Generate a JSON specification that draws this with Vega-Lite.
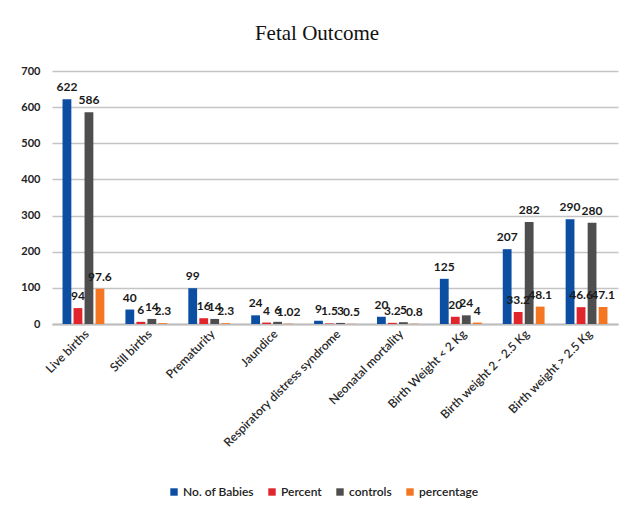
{
  "$schema": "https://vega.github.io/schema/vega-lite/v6.json",
  "autosize": "none",
  "width": 566,
  "height": 253,
  "padding": {"left": 52, "top": 71, "right": 11, "bottom": 187},
  "background": "white",
  "title": {
    "text": "Fetal Outcome",
    "font": "Liberation Serif",
    "fontSize": 21,
    "fontWeight": "normal",
    "color": "#111",
    "anchor": "middle",
    "dx": -18,
    "offset": 21
  },
  "data": {
    "values": [
      {"category": "Live births", "series": "No. of Babies", "value": 622, "label": "622"},
      {"category": "Live births", "series": "Percent", "value": 44, "label": "94"},
      {"category": "Live births", "series": "controls", "value": 586, "label": "586"},
      {"category": "Live births", "series": "percentage", "value": 97.6, "label": "97.6"},
      {"category": "Still births", "series": "No. of Babies", "value": 40, "label": "40"},
      {"category": "Still births", "series": "Percent", "value": 6, "label": "6"},
      {"category": "Still births", "series": "controls", "value": 14, "label": "14"},
      {"category": "Still births", "series": "percentage", "value": 2.3, "label": "2.3"},
      {"category": "Prematurity", "series": "No. of Babies", "value": 99, "label": "99"},
      {"category": "Prematurity", "series": "Percent", "value": 16, "label": "16"},
      {"category": "Prematurity", "series": "controls", "value": 14, "label": "14"},
      {"category": "Prematurity", "series": "percentage", "value": 2.3, "label": "2.3"},
      {"category": "Jaundice", "series": "No. of Babies", "value": 24, "label": "24"},
      {"category": "Jaundice", "series": "Percent", "value": 4, "label": "4"},
      {"category": "Jaundice", "series": "controls", "value": 6, "label": "6"},
      {"category": "Jaundice", "series": "percentage", "value": 1.02, "label": "1.02"},
      {"category": "Respiratory distress syndrome", "series": "No. of Babies", "value": 9, "label": "9"},
      {"category": "Respiratory distress syndrome", "series": "Percent", "value": 1.5, "label": "1.5"},
      {"category": "Respiratory distress syndrome", "series": "controls", "value": 3, "label": "3"},
      {"category": "Respiratory distress syndrome", "series": "percentage", "value": 0.5, "label": "0.5"},
      {"category": "Neonatal mortality", "series": "No. of Babies", "value": 20, "label": "20"},
      {"category": "Neonatal mortality", "series": "Percent", "value": 3.2, "label": "3.2"},
      {"category": "Neonatal mortality", "series": "controls", "value": 5, "label": "5"},
      {"category": "Neonatal mortality", "series": "percentage", "value": 0.8, "label": "0.8"},
      {"category": "Birth Weight < 2 Kg", "series": "No. of Babies", "value": 125, "label": "125"},
      {"category": "Birth Weight < 2 Kg", "series": "Percent", "value": 20, "label": "20"},
      {"category": "Birth Weight < 2 Kg", "series": "controls", "value": 24, "label": "24"},
      {"category": "Birth Weight < 2 Kg", "series": "percentage", "value": 4, "label": "4"},
      {"category": "Birth weight 2 - 2.5 Kg", "series": "No. of Babies", "value": 207, "label": "207"},
      {"category": "Birth weight 2 - 2.5 Kg", "series": "Percent", "value": 33.2, "label": "33.2"},
      {"category": "Birth weight 2 - 2.5 Kg", "series": "controls", "value": 282, "label": "282"},
      {"category": "Birth weight 2 - 2.5 Kg", "series": "percentage", "value": 48.1, "label": "48.1"},
      {"category": "Birth weight > 2.5 Kg", "series": "No. of Babies", "value": 290, "label": "290"},
      {"category": "Birth weight > 2.5 Kg", "series": "Percent", "value": 46.6, "label": "46.6"},
      {"category": "Birth weight > 2.5 Kg", "series": "controls", "value": 280, "label": "280"},
      {"category": "Birth weight > 2.5 Kg", "series": "percentage", "value": 47.1, "label": "47.1"}
    ]
  },
  "encoding": {
    "x": {
      "field": "category",
      "type": "nominal",
      "sort": null,
      "title": null,
      "scale": {"paddingInner": 0.3, "paddingOuter": 0.15},
      "axis": {
        "labelAngle": -45,
        "labelAlign": "right",
        "labelBaseline": "top",
        "labelFont": "Lato",
        "labelFontSize": 12,
        "labelFontWeight": 600,
        "labelColor": "#2a2a2a",
        "labelPadding": 4,
        "ticks": false,
        "domainColor": "#bdbdbd",
        "domainWidth": 2,
        "labelLimit": 300
      }
    },
    "xOffset": {
      "field": "series",
      "type": "nominal",
      "sort": ["No. of Babies", "Percent", "controls", "percentage"],
      "scale": {"paddingInner": 0.2, "paddingOuter": 0.1}
    },
    "y": {
      "field": "value",
      "type": "quantitative",
      "title": null,
      "scale": {"domain": [0, 700]},
      "axis": {
        "values": [0, 100, 200, 300, 400, 500, 600, 700],
        "domain": false,
        "ticks": false,
        "labelPadding": 12,
        "labelFont": "Lato",
        "labelFontSize": 11,
        "labelFontWeight": "bold",
        "labelColor": "#222",
        "gridColor": "#c4c4c4",
        "gridWidth": 1.5
      }
    }
  },
  "layer": [
    {
      "mark": {"type": "bar"},
      "encoding": {
        "color": {
          "field": "series",
          "type": "nominal",
          "scale": {
            "domain": ["No. of Babies", "Percent", "controls", "percentage"],
            "range": ["#0b4ea2", "#e0262c", "#4e4e4e", "#f47622"]
          },
          "legend": {
            "title": null,
            "orient": "none",
            "direction": "horizontal",
            "legendX": 116,
            "legendY": 415,
            "symbolType": "square",
            "symbolSize": 55,
            "symbolStrokeWidth": 0,
            "labelFont": "Lato",
            "labelFontSize": 12,
            "labelFontWeight": 600,
            "labelColor": "#222",
            "labelOffset": 3,
            "columnPadding": 12
          }
        }
      }
    },
    {
      "mark": {
        "type": "text",
        "baseline": "bottom",
        "dy": -5,
        "font": "Lato",
        "fontSize": 12,
        "fontWeight": "bold",
        "color": "#1a1a1a"
      },
      "encoding": {
        "text": {"field": "label", "type": "nominal"}
      }
    }
  ],
  "config": {
    "view": {"stroke": null}
  }
}
